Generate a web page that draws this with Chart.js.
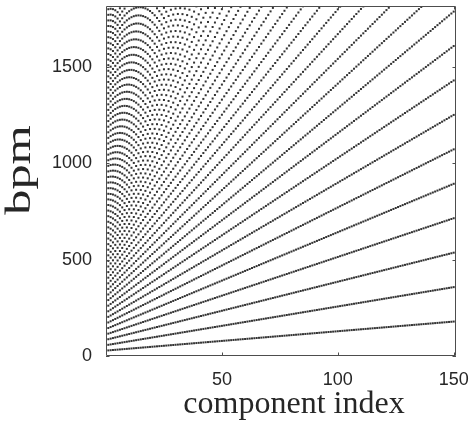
<!DOCTYPE html>
<html>
<head>
<meta charset="utf-8">
<script src="https://cdn.jsdelivr.net/npm/chart.js@4"></script>
<style>
  html, body { margin: 0; padding: 0; background: #fff; }
</style>
</head>
<body>
<canvas id="myChart" width="470" height="425"></canvas>
<script>
// component indices on the x axis
const componentIndex = Array.from({length: 152}, (_, i) => i);
// harmonic multiples of each component's tempo (one fan line each)
const harmonics = Array.from({length: 70}, (_, i) => i + 1);
// lowest line: ~28 bpm at index 0, ~180 bpm at 151
const startBpm = 28;
const bpmPerIndex = 1.004;
const xTicks = [50, 100, 150];
const yTicks = [0, 500, 1000, 1500];
const xLabel = 'component index';
const yLabel = 'bpm';
const xMax = 151;
const yMax = 1815;

const points = [];
harmonics.forEach(h => {
    componentIndex.forEach(k => {
        const bpm = h * (startBpm + bpmPerIndex * k);
        if (bpm <= yMax) points.push({x: k, y: bpm});
    });
});

// box round the axes with inward ticks on all four sides
const frame = {
    id: 'frame',
    afterDatasetsDraw(chart) {
        const {ctx, chartArea: a, scales: {x, y}} = chart;
        const t = 3.5;
        ctx.save();
        ctx.strokeStyle = '#4d4d4d';
        ctx.lineWidth = 1;
        ctx.beginPath();
        ctx.rect(a.left + 0.5, a.top + 0.5, a.right - a.left - 1, a.bottom - a.top - 1);
        xTicks.forEach(v => {
            const px = Math.round(x.getPixelForValue(v)) + 0.5;
            ctx.moveTo(px, a.bottom); ctx.lineTo(px, a.bottom - t);
            ctx.moveTo(px, a.top); ctx.lineTo(px, a.top + t);
        });
        yTicks.forEach(v => {
            const py = Math.round(y.getPixelForValue(v)) + 0.5;
            ctx.moveTo(a.left, py); ctx.lineTo(a.left + t, py);
            ctx.moveTo(a.right, py); ctx.lineTo(a.right - t, py);
        });
        ctx.stroke();

        // axis labels, placed like the original figure
        ctx.fillStyle = '#262626';
        ctx.font = '32px "Liberation Serif"';
        ctx.textAlign = 'center';
        ctx.textBaseline = 'alphabetic';
        ctx.fillText(xLabel, (a.left + a.right) / 2 + 13, 413);
        ctx.font = '36px "Liberation Serif"';
        ctx.translate(30, (a.top + a.bottom) / 2 - 11);
        ctx.rotate(-Math.PI / 2);
        ctx.scale(1.4, 1);
        ctx.fillText(yLabel, 0, 0);
        ctx.restore();
    }
};

const tickFont = {family: 'Liberation Sans', size: 18};

const ctx = document.getElementById('myChart').getContext('2d');
new Chart(ctx, {
    type: 'scatter',
    data: {
        datasets: [{
            data: points,
            pointStyle: 'rect',
            pointRadius: 1.42,
            pointHoverRadius: 1.42,
            pointBorderWidth: 0,
            backgroundColor: '#333333',
            borderColor: '#333333'
        }]
    },
    options: {
        responsive: false,
        animation: false,
        events: [],
        layout: {padding: {top: 6, right: 14, bottom: 0, left: 0}},
        plugins: {legend: {display: false}, tooltip: {enabled: false}},
        scales: {
            x: {
                type: 'linear',
                min: 0,
                max: xMax,
                afterBuildTicks: s => { s.ticks = xTicks.map(v => ({value: v})); },
                afterFit: s => { s.height = 69; s.paddingLeft = 0; s.paddingRight = 0; },
                grid: {display: false, drawTicks: false},
                border: {display: false},
                ticks: {font: tickFont, color: '#262626', padding: 13, autoSkip: false, maxRotation: 0,
                        callback: v => String(v)}
            },
            y: {
                type: 'linear',
                min: 0,
                max: yMax,
                afterBuildTicks: s => { s.ticks = yTicks.map(v => ({value: v})); },
                afterFit: s => { s.width = 106; s.paddingTop = 0; s.paddingBottom = 0; },
                grid: {display: false, drawTicks: false},
                border: {display: false},
                ticks: {font: tickFont, color: '#262626', padding: 14, autoSkip: false,
                        callback: v => String(v)}
            }
        }
    },
    plugins: [frame]
});
</script>
</body>
</html>
